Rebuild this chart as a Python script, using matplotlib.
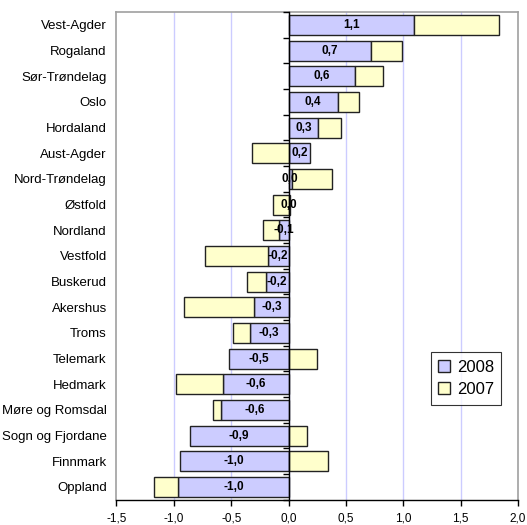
import numpy as np
import matplotlib
matplotlib.use("Agg")
import matplotlib.pyplot as plt

plt.rcParams["font.family"] = ["Liberation Sans", "DejaVu Sans"]

# fylker, top to bottom
fylker = ["Vest-Agder", "Rogaland", "Sør-Trøndelag", "Oslo", "Hordaland",
          "Aust-Agder", "Nord-Trøndelag", "Østfold", "Nordland", "Vestfold",
          "Buskerud", "Akershus", "Troms", "Telemark", "Hedmark",
          "Møre og Romsdal", "Sogn og Fjordane", "Finnmark", "Oppland"]
v2008 = [1.09, 0.72, 0.58, 0.43, 0.26, 0.19, 0.03, 0.01, -0.08, -0.18,
         -0.20, -0.30, -0.34, -0.52, -0.57, -0.59, -0.86, -0.95, -0.96]
v2007 = [0.74, 0.27, 0.24, 0.18, 0.20, -0.32, 0.35, -0.14, -0.14, -0.55,
         -0.16, -0.61, -0.14, 0.25, -0.41, -0.07, 0.16, 0.34, -0.21]
labels2008 = ["1,1", "0,7", "0,6", "0,4", "0,3", "0,2", "0,0", "0,0", "-0,1", "-0,2",
              "-0,2", "-0,3", "-0,3", "-0,5", "-0,6", "-0,6", "-0,9", "-1,0", "-1,0"]

blue = "#CCCCFF"
yellow = "#FFFFCC"

v8 = np.array(v2008)
v7 = np.array(v2007)
y = np.arange(len(fylker))
# 2007 stacks on top of 2008 when same sign, otherwise starts at zero
left7 = np.where(np.sign(v7) == np.sign(v8), v8, 0.0)

fig = plt.figure(figsize=(5.27, 5.25), dpi=100)
ax = fig.add_axes([0.221, 0.048, 0.762, 0.929])

h = 0.78
b8 = ax.barh(y, v8, height=h, color=blue, edgecolor="#222222", lw=1, label="2008", zorder=3)
b7 = ax.barh(y, v7, left=left7, height=h, color=yellow, edgecolor="#222222", lw=1, label="2007", zorder=3)

for i in range(len(fylker)):
    ax.text(v8[i] / 2, y[i], labels2008[i], ha="center", va="center",
            fontsize=8.5, fontweight="bold", zorder=5)

ax.set_xlim(-1.5, 2.0)
ax.set_ylim(len(fylker) - 0.5, -0.5)
xt = np.arange(-1.5, 2.01, 0.5)
ax.set_xticks(xt)
ax.set_xticklabels([f"{t:.1f}".replace(".", ",") for t in xt], fontsize=8.5)
ax.set_yticks(y)
ax.set_yticklabels(fylker, fontsize=9.5)
ax.tick_params(axis="y", length=0, pad=7)
ax.tick_params(axis="x", length=4, direction="out", width=1, pad=5)

for t in xt[1:-1]:
    ax.axvline(t, color="#CCCCFF", lw=1, zorder=1)

for s in ["top", "right", "left"]:
    ax.spines[s].set_color("#A0A0A0")
    ax.spines[s].set_linewidth(1.2)
ax.spines["bottom"].set_color("black")
ax.spines["bottom"].set_linewidth(1)

# zero axis with category ticks
ax2 = ax.twinx()
ax2.set_ylim(ax.get_ylim())
for s in ["top", "right", "bottom"]:
    ax2.spines[s].set_visible(False)
ax2.spines["left"].set_position(("data", 0))
ax2.spines["left"].set_color("black")
ax2.spines["left"].set_linewidth(1)
ax2.spines["left"].set_zorder(6)
ax2.yaxis.set_ticks_position("left")
ax2.set_yticks(np.arange(-0.5, len(fylker), 1.0))
ax2.set_yticklabels([])
ax2.tick_params(axis="y", which="both", left=True, right=False,
                length=4, direction="out", width=1)

leg = ax.legend(handles=[b8, b7], loc="lower left", bbox_to_anchor=(0.762, 0.178),
                fontsize=12, frameon=True, fancybox=False, edgecolor="black",
                handlelength=0.7, handleheight=0.7, handletextpad=0.4,
                borderpad=0.45, labelspacing=0.45)
leg.get_frame().set_linewidth(0.8)
leg.set_zorder(10)

fig.savefig("out.png", dpi=100)
